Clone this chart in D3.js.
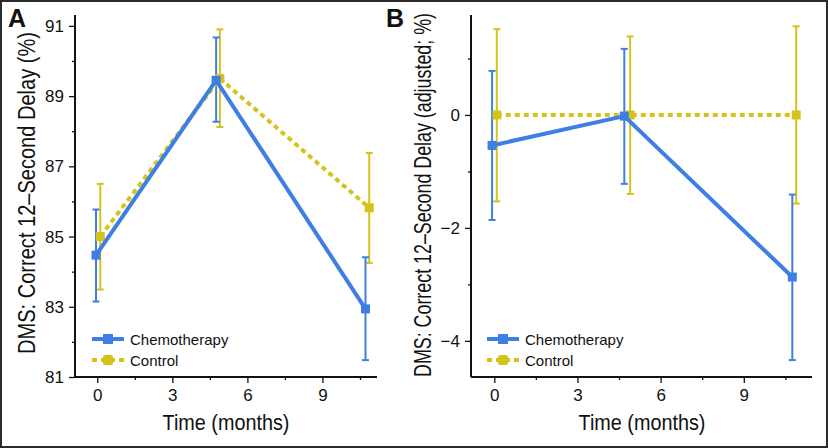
<!DOCTYPE html>
<html>
<head>
<meta charset="utf-8">
<script src="https://cdn.jsdelivr.net/npm/d3@7/dist/d3.min.js"></script>
<style>
  html, body { margin: 0; padding: 0; background: #fff; }
  svg { display: block; }
  text { font-family: 'Liberation Sans', Arial, Helvetica, sans-serif; fill: #111; }
</style>
</head>
<body>
<div id="chart"></div>
<script>
// ---------------- DATA ----------------
const seriesNames = ["Chemotherapy", "Control"];

// Panel A: DMS correct 12-second delay (%)
const aChemoTime  = [-0.05, 4.75, 10.72];
const aChemoMean  = [84.47, 89.45, 82.94];
const aChemoUpper = [85.77, 90.67, 84.41];
const aChemoLower = [83.15, 88.27, 81.48];

const aCtrlTime   = [0.12, 4.90, 10.87];
const aCtrlMean   = [85.00, 89.50, 85.82];
const aCtrlUpper  = [86.50, 90.90, 87.38];
const aCtrlLower  = [83.49, 88.12, 84.25];

// Panel B: adjusted (%)
const bChemoTime  = [-0.08, 4.69, 10.75];
const bChemoMean  = [-0.54, -0.02, -2.87];
const bChemoUpper = [0.78, 1.17, -1.41];
const bChemoLower = [-1.86, -1.22, -4.34];

const bCtrlTime   = [0.09, 4.90, 10.89];
const bCtrlMean   = [0, 0, 0];
const bCtrlUpper  = [1.52, 1.39, 1.57];
const bCtrlLower  = [-1.53, -1.40, -1.57];

const xTicks = [0, 3, 6, 9];
const xMinorTicks = [1.5, 4.5, 7.5, 10.5];
const aYTicks = [81, 83, 85, 87, 89, 91];
const aYMinorTicks = [82, 84, 86, 88, 90];
const bYTicks = [-4, -2, 0];
const bYMinorTicks = [-3, -1, 1];

const xTitle = "Time (months)";
const aYTitle = "DMS: Correct 12\u2013Second Delay (%)";
const bYTitle = "DMS: Correct 12\u2013Second Delay (adjusted; %)";

// ---------------- STYLE ----------------
const BLUE = "#3f7fe4";
const YELLOW = "#d5c31a";
const W = 828, H = 448;

const svg = d3.select("#chart").append("svg").attr("width", W).attr("height", H);
svg.append("rect").attr("x", 1).attr("y", 1).attr("width", W - 2).attr("height", H - 2)
  .attr("fill", "#fff").attr("stroke", "#2a2a2a").attr("stroke-width", 2);

function fmt(v) { return v < 0 ? "\u2212" + Math.abs(v) : String(v); }

// text squeezed horizontally (along its own direction) to a target length
function squeezedText(g, str, size, cx, cy, target, rotate) {
  const t = g.append("text").attr("text-anchor", "middle").attr("font-size", size).text(str);
  const L = t.node().getComputedTextLength();
  const s = target / L;
  t.attr("transform", `translate(${cx},${cy}) rotate(${rotate}) scale(${s},1)`);
  return t;
}

function panel(cfg) {
  const x = d3.scaleLinear().domain(cfg.xDomain).range([cfg.left, cfg.right]);
  const y = d3.scaleLinear().domain(cfg.yDomain).range([cfg.bottom, cfg.top]);
  const g = svg.append("g");

  const yAxis = g.append("g").attr("transform", `translate(${cfg.left},0)`)
    .call(d3.axisLeft(y).tickValues(cfg.yTicks).tickSize(6).tickSizeOuter(0).tickPadding(5).tickFormat(fmt));
  const yMinor = g.append("g").attr("transform", `translate(${cfg.left},0)`)
    .call(d3.axisLeft(y).tickValues(cfg.yMinor).tickSize(3).tickSizeOuter(0).tickFormat(""));
  yMinor.select(".domain").remove();

  const xAxis = g.append("g").attr("transform", `translate(0,${cfg.bottom})`)
    .call(d3.axisBottom(x).tickValues(xTicks).tickSize(6).tickSizeOuter(0).tickPadding(6).tickFormat(fmt));
  const xMinor = g.append("g").attr("transform", `translate(0,${cfg.bottom})`)
    .call(d3.axisBottom(x).tickValues(xMinorTicks).tickSize(3).tickSizeOuter(0).tickFormat(""));
  xMinor.select(".domain").remove();

  [yAxis, yMinor, xAxis, xMinor].forEach(a => {
    a.selectAll("line").attr("stroke", "#111").attr("stroke-width", 1.3);
    a.selectAll("text").attr("font-size", 17).attr("fill", "#111")
      .attr("font-family", "'Liberation Sans', Arial, sans-serif");
  });
  yAxis.select(".domain").attr("stroke", "#111").attr("stroke-width", 2)
    .attr("d", `M0,${cfg.top}V${cfg.bottom}`);
  xAxis.select(".domain").attr("stroke", "#111").attr("stroke-width", 2)
    .attr("d", `M${cfg.left},0H${cfg.right}`);

  // titles
  squeezedText(g, cfg.yTitle, 23, cfg.yTitleX, cfg.yTitleY, cfg.yTitleLen, -90);
  squeezedText(g, xTitle, 22, cfg.xTitleX, 430, 127, 0);
  g.append("text")
    .attr("x", cfg.labelX).attr("y", 27)
    .attr("font-size", 25).attr("font-weight", "bold")
    .text(cfg.label);

  const line = d3.line().x(d => x(d.t)).y(d => y(d.m));
  function mk(t, m, u, l) { return t.map((v, i) => ({ t: v, m: m[i], u: u[i], l: l[i] })); }
  const series = [
    { name: seriesNames[1], color: YELLOW, dash: "5,4", data: mk(cfg.ctrl[0], cfg.ctrl[1], cfg.ctrl[2], cfg.ctrl[3]) },
    { name: seriesNames[0], color: BLUE, dash: null, data: mk(cfg.chemo[0], cfg.chemo[1], cfg.chemo[2], cfg.chemo[3]) }
  ];

  // error bars
  series.forEach(s => {
    const eb = g.append("g");
    s.data.forEach(d => {
      eb.append("line").attr("x1", x(d.t)).attr("x2", x(d.t)).attr("y1", y(d.u)).attr("y2", y(d.l))
        .attr("stroke", s.color).attr("stroke-width", 2);
      [d.u, d.l].forEach(v => eb.append("line")
        .attr("x1", x(d.t) - 3.5).attr("x2", x(d.t) + 3.5).attr("y1", y(v)).attr("y2", y(v))
        .attr("stroke", s.color).attr("stroke-width", 2));
    });
  });
  // lines and markers
  series.forEach(s => {
    g.append("path").datum(s.data).attr("d", line).attr("fill", "none")
      .attr("stroke", s.color).attr("stroke-width", 4)
      .attr("stroke-dasharray", s.dash);
    g.selectAll(null).data(s.data).enter().append("rect")
      .attr("x", d => x(d.t) - 4.5).attr("y", d => y(d.m) - 4.5)
      .attr("width", 9).attr("height", 9).attr("fill", s.color);
  });

  // legend
  const lg = g.append("g");
  const legendRows = [series[1], series[0]];
  legendRows.forEach((s, i) => {
    const cy = 339 + i * 21;
    lg.append("line").attr("x1", cfg.legX).attr("x2", cfg.legX + 32).attr("y1", cy).attr("y2", cy)
      .attr("stroke", s.color).attr("stroke-width", 4).attr("stroke-dasharray", s.dash);
    lg.append("rect").attr("x", cfg.legX + 16 - 5).attr("y", cy - 5).attr("width", 10).attr("height", 10)
      .attr("rx", s.dash ? 2.5 : 0).attr("fill", s.color);
    lg.append("text").attr("x", cfg.legX + 38).attr("y", cy + 5.5)
      .attr("font-size", 15).text(s.name);
  });
}

panel({
  label: "A", labelX: 8,
  left: 75, right: 377, top: 15, bottom: 377,
  xDomain: [-0.89, 11.18], yDomain: [81, 91.31],
  yTicks: aYTicks, yMinor: aYMinorTicks,
  yTitle: aYTitle, yTitleX: 35, yTitleY: 193, yTitleLen: 322,
  xTitleX: 226, legX: 92,
  chemo: [aChemoTime, aChemoMean, aChemoUpper, aChemoLower],
  ctrl: [aCtrlTime, aCtrlMean, aCtrlUpper, aCtrlLower]
});

panel({
  label: "B", labelX: 386,
  left: 471, right: 812, top: 15, bottom: 377,
  xDomain: [-0.84, 11.46], yDomain: [-4.64, 1.77],
  yTicks: bYTicks, yMinor: bYMinorTicks,
  yTitle: bYTitle, yTitleX: 431, yTitleY: 195, yTitleLen: 364,
  xTitleX: 642, legX: 487,
  chemo: [bChemoTime, bChemoMean, bChemoUpper, bChemoLower],
  ctrl: [bCtrlTime, bCtrlMean, bCtrlUpper, bCtrlLower]
});
</script>
</body>
</html>
